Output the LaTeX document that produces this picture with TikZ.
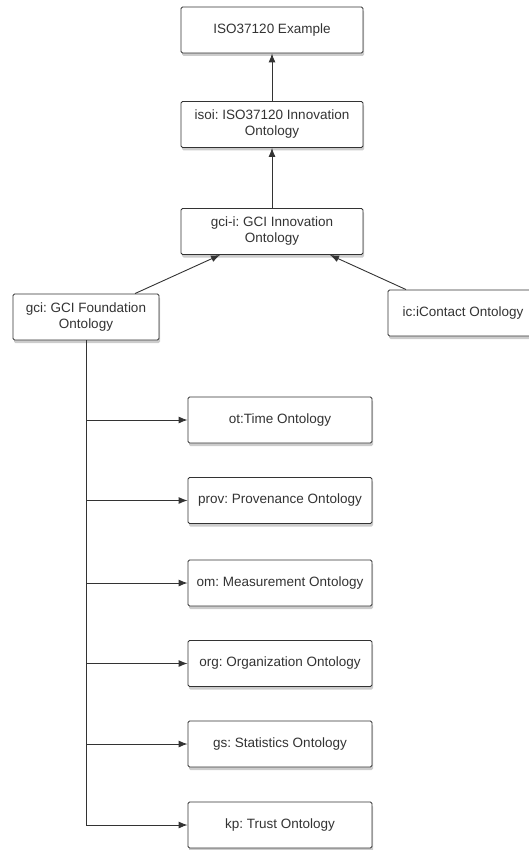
\documentclass[tikz,border=0pt]{standalone}
\usepackage{fontspec}
\setmainfont{Liberation Sans}
\usetikzlibrary{shadows,arrows.meta}
\definecolor{edge}{HTML}{333333}
\frenchspacing
\tikzset{
  box/.style={draw=edge,fill=white,rounded corners=1.5pt,line width=0.9pt,
    minimum height=46pt,inner sep=2pt,align=center,text=black!80,
    font=\fontsize{13.5}{16}\selectfont,
    drop shadow={opacity=0.4,shadow xshift=1pt,shadow yshift=-3pt}},
  arr/.style={draw=edge,line width=0.9pt,-{Latex[length=9pt,width=7pt]}}
}
\begin{document}
\begin{tikzpicture}[x=1pt,y=-1pt]
\useasboundingbox (0,0) rectangle (528,850);
% Upper chain
\node[box,minimum width=182pt] (ex) at (272,30) {ISO37120 Example};
\node[box,minimum width=182pt] (isoi) at (272,124.5) {isoi: ISO37120 Innovation\\Ontology};
\node[box,minimum width=182pt] (gcii) at (272,231.5) {gci-i: GCI Innovation\\Ontology};
\node[box,minimum width=146pt] (gci) at (86,317) {gci: GCI Foundation\\Ontology};
\node[box,minimum width=150pt] (ic) at (463,313) {ic:iContact Ontology};
% Lower column
\node[box,minimum width=184pt] (ot) at (280,420) {ot:Time Ontology};
\node[box,minimum width=184pt] (prov) at (280,500.5) {prov: Provenance Ontology};
\node[box,minimum width=184pt] (om) at (280,583) {om: Measurement Ontology};
\node[box,minimum width=184pt] (org) at (280,663.5) {org: Organization Ontology};
\node[box,minimum width=184pt] (gs) at (280,744) {gs: Statistics Ontology};
\node[box,minimum width=184pt] (kp) at (280,825) {kp: Trust Ontology};
% Arrows
\draw[arr] (isoi) -- (ex);
\draw[arr] (gcii) -- (isoi);
\draw[arr] ([xshift=49pt]gci.north) -- ([xshift=-52pt]gcii.south);
\draw[arr] ([xshift=-57pt]ic.north) -- ([xshift=58pt]gcii.south);
\draw[arr] (gci.south) |- (kp.west);
\foreach \n in {ot,prov,om,org,gs}
  \draw[arr] (gci.south |- \n.west) -- (\n.west);
\end{tikzpicture}
\end{document}
